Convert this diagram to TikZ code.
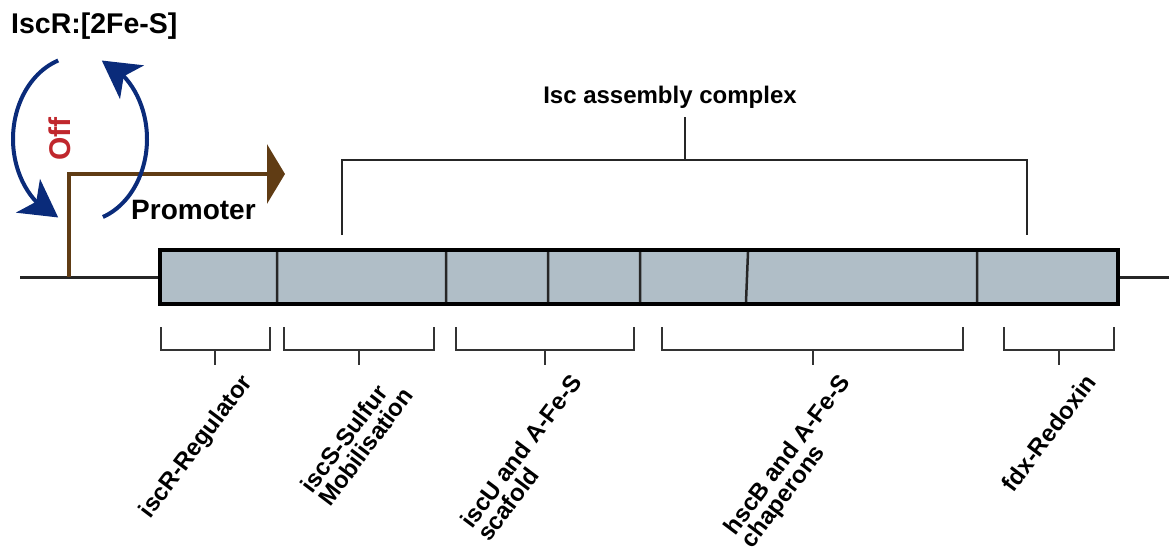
\documentclass[tikz,border=0pt]{standalone}
\usepackage{fontspec}
\setmainfont{Liberation Sans}
\usetikzlibrary{arrows.meta,bending}
\definecolor{genefill}{RGB}{176,190,199}
\definecolor{promobrown}{RGB}{96,60,20}
\definecolor{loopblue}{RGB}{10,43,122}
\definecolor{offred}{RGB}{192,39,45}
\begin{document}
\begin{tikzpicture}[x=1pt,y=-1pt]
\tikzstyle{every node}=[inner sep=0pt,font=\bfseries];
\tikzstyle{bracket}=[draw=black!80,line width=2.5pt];
\tikzstyle{genelabel}=[anchor=north east,rotate=53,align=left,font=\bfseries\fontsize{24}{22}\selectfont];
\tikzstyle{loop}=[draw=loopblue,line width=4pt,-{Stealth[length=37pt,width=41pt,inset=10pt]}];
\useasboundingbox (0,0) rectangle (1169,550);
% DNA strand and operon
\draw[line width=3pt,black!85] (20,277) -- (1169,277);
\draw[line width=3.5pt,fill=genefill] (160,250) rectangle (1118,304);
\draw[line width=2.5pt,black!85] (277,252) -- (277,302)
(446,252) -- (446,302)
(548,252) -- (548,302)
(640,252) -- (640,302)
(748,252) -- (746,302)
(977,252) -- (977,302);
% promoter
\draw[promobrown,line width=4pt,-{Triangle[length=18pt,width=59pt]}] (69,277) -- (69,174) -- (285,174);
\node[anchor=base west,font=\bfseries\fontsize{28}{33}\selectfont] (promoter) at (131,219) {Promoter};
% regulator switch
\node[anchor=base west,font=\bfseries\fontsize{28.5}{34}\selectfont] (iscr) at (11,33) {IscR:[2Fe-S]};
\draw[loop] (58.2,60.5) arc[start angle=251,end angle=109,x radius=67,y radius=83];
\draw[loop] (102.9,217) arc[start angle=70,end angle=-71,x radius=67,y radius=83];
\node[rotate=90,anchor=base west,text=offred,font=\bfseries\fontsize{30}{36}\selectfont] (off) at (70,161) {Off};
% complex bracket
\node[anchor=base,font=\bfseries\fontsize{24}{28}\selectfont] (complex) at (670,103) {Isc assembly complex};
\draw[line width=2pt,black!85] (342,235) -- (342,160) -- (1027,160) -- (1027,235)
(685,160) -- (685,117);
% gene brackets
\draw[bracket] (161,327) -- (161,350) -- (270,350) -- (270,327) (215,350) -- (215,365);
\draw[bracket] (284,327) -- (284,350) -- (434,350) -- (434,327) (359,350) -- (359,365);
\draw[bracket] (456,327) -- (456,350) -- (634,350) -- (634,327) (545,350) -- (545,365);
\draw[bracket] (662,327) -- (662,350) -- (963,350) -- (963,327) (813,350) -- (813,365);
\draw[bracket] (1004,327) -- (1004,350) -- (1114,350) -- (1114,327) (1059,350) -- (1059,365);
\node[genelabel] (iscrlab) at (239,372) {iscR-Regulator};
\node[genelabel] (iscslab) at (383,372) {iscS-Sulfur\\Mobilisation};
\node[genelabel] (isculab) at (569,372) {iscU and A-Fe-S\\scafold};
\node[genelabel] (hscblab) at (837,372) {hscB and A-Fe-S\\chaperons};
\node[genelabel] (fdxlab) at (1083,372) {fdx-Redoxin};
\end{tikzpicture}
\end{document}
